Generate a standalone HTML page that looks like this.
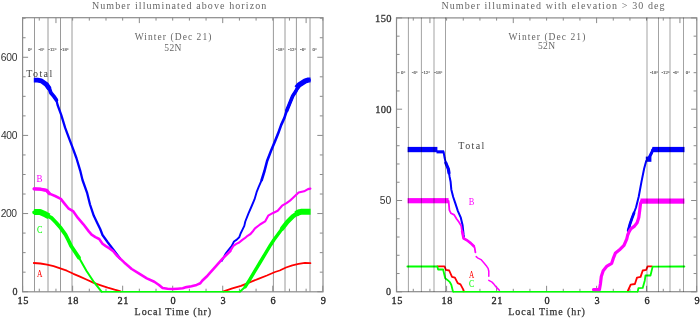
<!DOCTYPE html>
<html><head><meta charset="utf-8"><style>
html,body{margin:0;padding:0;background:#fff;width:700px;height:318px;overflow:hidden}
svg{display:block;will-change:transform}
</style></head><body>
<svg width="700" height="318" viewBox="0 0 700 318">

<line x1="34.5" y1="17.6" x2="34.5" y2="291.7" stroke="#9a9a9a" stroke-width="1"/>
<line x1="48" y1="17.6" x2="48" y2="291.7" stroke="#9a9a9a" stroke-width="1"/>
<line x1="60.5" y1="17.6" x2="60.5" y2="291.7" stroke="#9a9a9a" stroke-width="1"/>
<line x1="72" y1="17.6" x2="72" y2="291.7" stroke="#9a9a9a" stroke-width="1"/>
<line x1="273.4" y1="17.6" x2="273.4" y2="291.7" stroke="#9a9a9a" stroke-width="1"/>
<line x1="285" y1="17.6" x2="285" y2="291.7" stroke="#9a9a9a" stroke-width="1"/>
<line x1="296.4" y1="17.6" x2="296.4" y2="291.7" stroke="#9a9a9a" stroke-width="1"/>
<line x1="310" y1="17.6" x2="310" y2="291.7" stroke="#9a9a9a" stroke-width="1"/>
<rect x="22.6" y="17.7" width="300.4" height="274.1" fill="none" stroke="#8a8a8a" stroke-width="1.2"/>
<line x1="22.6" y1="291.7" x2="28.1" y2="291.7" stroke="#8a8a8a" stroke-width="1"/>
<line x1="322.8" y1="291.7" x2="317.3" y2="291.7" stroke="#8a8a8a" stroke-width="1"/>
<line x1="22.6" y1="272.16" x2="25.6" y2="272.16" stroke="#8a8a8a" stroke-width="1"/>
<line x1="322.8" y1="272.16" x2="319.8" y2="272.16" stroke="#8a8a8a" stroke-width="1"/>
<line x1="22.6" y1="252.63" x2="25.6" y2="252.63" stroke="#8a8a8a" stroke-width="1"/>
<line x1="322.8" y1="252.63" x2="319.8" y2="252.63" stroke="#8a8a8a" stroke-width="1"/>
<line x1="22.6" y1="233.09" x2="25.6" y2="233.09" stroke="#8a8a8a" stroke-width="1"/>
<line x1="322.8" y1="233.09" x2="319.8" y2="233.09" stroke="#8a8a8a" stroke-width="1"/>
<line x1="22.6" y1="213.56" x2="28.1" y2="213.56" stroke="#8a8a8a" stroke-width="1"/>
<line x1="322.8" y1="213.56" x2="317.3" y2="213.56" stroke="#8a8a8a" stroke-width="1"/>
<line x1="22.6" y1="194.02" x2="25.6" y2="194.02" stroke="#8a8a8a" stroke-width="1"/>
<line x1="322.8" y1="194.02" x2="319.8" y2="194.02" stroke="#8a8a8a" stroke-width="1"/>
<line x1="22.6" y1="174.49" x2="25.6" y2="174.49" stroke="#8a8a8a" stroke-width="1"/>
<line x1="322.8" y1="174.49" x2="319.8" y2="174.49" stroke="#8a8a8a" stroke-width="1"/>
<line x1="22.6" y1="154.95" x2="25.6" y2="154.95" stroke="#8a8a8a" stroke-width="1"/>
<line x1="322.8" y1="154.95" x2="319.8" y2="154.95" stroke="#8a8a8a" stroke-width="1"/>
<line x1="22.6" y1="135.41" x2="28.1" y2="135.41" stroke="#8a8a8a" stroke-width="1"/>
<line x1="322.8" y1="135.41" x2="317.3" y2="135.41" stroke="#8a8a8a" stroke-width="1"/>
<line x1="22.6" y1="115.88" x2="25.6" y2="115.88" stroke="#8a8a8a" stroke-width="1"/>
<line x1="322.8" y1="115.88" x2="319.8" y2="115.88" stroke="#8a8a8a" stroke-width="1"/>
<line x1="22.6" y1="96.34" x2="25.6" y2="96.34" stroke="#8a8a8a" stroke-width="1"/>
<line x1="322.8" y1="96.34" x2="319.8" y2="96.34" stroke="#8a8a8a" stroke-width="1"/>
<line x1="22.6" y1="76.81" x2="25.6" y2="76.81" stroke="#8a8a8a" stroke-width="1"/>
<line x1="322.8" y1="76.81" x2="319.8" y2="76.81" stroke="#8a8a8a" stroke-width="1"/>
<line x1="22.6" y1="57.27" x2="28.1" y2="57.27" stroke="#8a8a8a" stroke-width="1"/>
<line x1="322.8" y1="57.27" x2="317.3" y2="57.27" stroke="#8a8a8a" stroke-width="1"/>
<line x1="22.6" y1="37.74" x2="25.6" y2="37.74" stroke="#8a8a8a" stroke-width="1"/>
<line x1="322.8" y1="37.74" x2="319.8" y2="37.74" stroke="#8a8a8a" stroke-width="1"/>
<line x1="22.6" y1="18.2" x2="25.6" y2="18.2" stroke="#8a8a8a" stroke-width="1"/>
<line x1="322.8" y1="18.2" x2="319.8" y2="18.2" stroke="#8a8a8a" stroke-width="1"/>
<line x1="22.6" y1="291.7" x2="22.6" y2="285.7" stroke="#8a8a8a" stroke-width="1"/>
<line x1="22.6" y1="17.6" x2="22.6" y2="20.6" stroke="#8a8a8a" stroke-width="1"/>
<line x1="39.28" y1="291.7" x2="39.28" y2="288.7" stroke="#8a8a8a" stroke-width="1"/>
<line x1="39.28" y1="17.6" x2="39.28" y2="20.6" stroke="#8a8a8a" stroke-width="1"/>
<line x1="55.96" y1="291.7" x2="55.96" y2="288.7" stroke="#8a8a8a" stroke-width="1"/>
<line x1="55.96" y1="17.6" x2="55.96" y2="23.1" stroke="#8a8a8a" stroke-width="1"/>
<line x1="72.63" y1="291.7" x2="72.63" y2="285.7" stroke="#8a8a8a" stroke-width="1"/>
<line x1="72.63" y1="17.6" x2="72.63" y2="20.6" stroke="#8a8a8a" stroke-width="1"/>
<line x1="89.31" y1="291.7" x2="89.31" y2="288.7" stroke="#8a8a8a" stroke-width="1"/>
<line x1="89.31" y1="17.6" x2="89.31" y2="20.6" stroke="#8a8a8a" stroke-width="1"/>
<line x1="105.99" y1="291.7" x2="105.99" y2="288.7" stroke="#8a8a8a" stroke-width="1"/>
<line x1="105.99" y1="17.6" x2="105.99" y2="20.6" stroke="#8a8a8a" stroke-width="1"/>
<line x1="122.67" y1="291.7" x2="122.67" y2="285.7" stroke="#8a8a8a" stroke-width="1"/>
<line x1="122.67" y1="17.6" x2="122.67" y2="20.6" stroke="#8a8a8a" stroke-width="1"/>
<line x1="139.34" y1="291.7" x2="139.34" y2="288.7" stroke="#8a8a8a" stroke-width="1"/>
<line x1="139.34" y1="17.6" x2="139.34" y2="23.1" stroke="#8a8a8a" stroke-width="1"/>
<line x1="156.02" y1="291.7" x2="156.02" y2="288.7" stroke="#8a8a8a" stroke-width="1"/>
<line x1="156.02" y1="17.6" x2="156.02" y2="20.6" stroke="#8a8a8a" stroke-width="1"/>
<line x1="172.7" y1="291.7" x2="172.7" y2="285.7" stroke="#8a8a8a" stroke-width="1"/>
<line x1="172.7" y1="17.6" x2="172.7" y2="20.6" stroke="#8a8a8a" stroke-width="1"/>
<line x1="189.38" y1="291.7" x2="189.38" y2="288.7" stroke="#8a8a8a" stroke-width="1"/>
<line x1="189.38" y1="17.6" x2="189.38" y2="20.6" stroke="#8a8a8a" stroke-width="1"/>
<line x1="206.06" y1="291.7" x2="206.06" y2="288.7" stroke="#8a8a8a" stroke-width="1"/>
<line x1="206.06" y1="17.6" x2="206.06" y2="20.6" stroke="#8a8a8a" stroke-width="1"/>
<line x1="222.73" y1="291.7" x2="222.73" y2="285.7" stroke="#8a8a8a" stroke-width="1"/>
<line x1="222.73" y1="17.6" x2="222.73" y2="23.1" stroke="#8a8a8a" stroke-width="1"/>
<line x1="239.41" y1="291.7" x2="239.41" y2="288.7" stroke="#8a8a8a" stroke-width="1"/>
<line x1="239.41" y1="17.6" x2="239.41" y2="20.6" stroke="#8a8a8a" stroke-width="1"/>
<line x1="256.09" y1="291.7" x2="256.09" y2="288.7" stroke="#8a8a8a" stroke-width="1"/>
<line x1="256.09" y1="17.6" x2="256.09" y2="20.6" stroke="#8a8a8a" stroke-width="1"/>
<line x1="272.77" y1="291.7" x2="272.77" y2="285.7" stroke="#8a8a8a" stroke-width="1"/>
<line x1="272.77" y1="17.6" x2="272.77" y2="20.6" stroke="#8a8a8a" stroke-width="1"/>
<line x1="289.44" y1="291.7" x2="289.44" y2="288.7" stroke="#8a8a8a" stroke-width="1"/>
<line x1="289.44" y1="17.6" x2="289.44" y2="20.6" stroke="#8a8a8a" stroke-width="1"/>
<line x1="306.12" y1="291.7" x2="306.12" y2="288.7" stroke="#8a8a8a" stroke-width="1"/>
<line x1="306.12" y1="17.6" x2="306.12" y2="23.1" stroke="#8a8a8a" stroke-width="1"/>
<line x1="322.8" y1="291.7" x2="322.8" y2="285.7" stroke="#8a8a8a" stroke-width="1"/>
<line x1="322.8" y1="17.6" x2="322.8" y2="20.6" stroke="#8a8a8a" stroke-width="1"/>
<text x="27.9" y="50.7" font-family="Liberation Serif, serif" font-size="4.8" fill="#555" text-anchor="start"  stroke="#555" stroke-width="0.15">0°</text>
<text x="38.6" y="50.7" font-family="Liberation Serif, serif" font-size="4.8" fill="#555" text-anchor="start"  stroke="#555" stroke-width="0.15">-6°</text>
<text x="48.3" y="50.7" font-family="Liberation Serif, serif" font-size="4.8" fill="#555" text-anchor="start"  stroke="#555" stroke-width="0.15">-12°</text>
<text x="60.4" y="50.7" font-family="Liberation Serif, serif" font-size="4.8" fill="#555" text-anchor="start"  stroke="#555" stroke-width="0.15">-18°</text>
<text x="276.1" y="50.7" font-family="Liberation Serif, serif" font-size="4.8" fill="#555" text-anchor="start"  stroke="#555" stroke-width="0.15">-18°</text>
<text x="288.1" y="50.7" font-family="Liberation Serif, serif" font-size="4.8" fill="#555" text-anchor="start"  stroke="#555" stroke-width="0.15">-12°</text>
<text x="300.1" y="50.7" font-family="Liberation Serif, serif" font-size="4.8" fill="#555" text-anchor="start"  stroke="#555" stroke-width="0.15">-6°</text>
<text x="312.6" y="50.7" font-family="Liberation Serif, serif" font-size="4.8" fill="#555" text-anchor="start"  stroke="#555" stroke-width="0.15">0°</text>
<rect x="396.5" y="17.9" width="300.3" height="273.8" fill="none" stroke="#8a8a8a" stroke-width="1.2"/>
<line x1="396.6" y1="291.8" x2="402.1" y2="291.8" stroke="#8a8a8a" stroke-width="1"/>
<line x1="696.6" y1="291.8" x2="691.1" y2="291.8" stroke="#8a8a8a" stroke-width="1"/>
<line x1="396.6" y1="273.54" x2="399.6" y2="273.54" stroke="#8a8a8a" stroke-width="1"/>
<line x1="696.6" y1="273.54" x2="693.6" y2="273.54" stroke="#8a8a8a" stroke-width="1"/>
<line x1="396.6" y1="255.28" x2="399.6" y2="255.28" stroke="#8a8a8a" stroke-width="1"/>
<line x1="696.6" y1="255.28" x2="693.6" y2="255.28" stroke="#8a8a8a" stroke-width="1"/>
<line x1="396.6" y1="237.02" x2="399.6" y2="237.02" stroke="#8a8a8a" stroke-width="1"/>
<line x1="696.6" y1="237.02" x2="693.6" y2="237.02" stroke="#8a8a8a" stroke-width="1"/>
<line x1="396.6" y1="218.76" x2="399.6" y2="218.76" stroke="#8a8a8a" stroke-width="1"/>
<line x1="696.6" y1="218.76" x2="693.6" y2="218.76" stroke="#8a8a8a" stroke-width="1"/>
<line x1="396.6" y1="200.5" x2="402.1" y2="200.5" stroke="#8a8a8a" stroke-width="1"/>
<line x1="696.6" y1="200.5" x2="691.1" y2="200.5" stroke="#8a8a8a" stroke-width="1"/>
<line x1="396.6" y1="182.24" x2="399.6" y2="182.24" stroke="#8a8a8a" stroke-width="1"/>
<line x1="696.6" y1="182.24" x2="693.6" y2="182.24" stroke="#8a8a8a" stroke-width="1"/>
<line x1="396.6" y1="163.98" x2="399.6" y2="163.98" stroke="#8a8a8a" stroke-width="1"/>
<line x1="696.6" y1="163.98" x2="693.6" y2="163.98" stroke="#8a8a8a" stroke-width="1"/>
<line x1="396.6" y1="145.72" x2="399.6" y2="145.72" stroke="#8a8a8a" stroke-width="1"/>
<line x1="696.6" y1="145.72" x2="693.6" y2="145.72" stroke="#8a8a8a" stroke-width="1"/>
<line x1="396.6" y1="127.46" x2="399.6" y2="127.46" stroke="#8a8a8a" stroke-width="1"/>
<line x1="696.6" y1="127.46" x2="693.6" y2="127.46" stroke="#8a8a8a" stroke-width="1"/>
<line x1="396.6" y1="109.2" x2="402.1" y2="109.2" stroke="#8a8a8a" stroke-width="1"/>
<line x1="696.6" y1="109.2" x2="691.1" y2="109.2" stroke="#8a8a8a" stroke-width="1"/>
<line x1="396.6" y1="90.94" x2="399.6" y2="90.94" stroke="#8a8a8a" stroke-width="1"/>
<line x1="696.6" y1="90.94" x2="693.6" y2="90.94" stroke="#8a8a8a" stroke-width="1"/>
<line x1="396.6" y1="72.68" x2="399.6" y2="72.68" stroke="#8a8a8a" stroke-width="1"/>
<line x1="696.6" y1="72.68" x2="693.6" y2="72.68" stroke="#8a8a8a" stroke-width="1"/>
<line x1="396.6" y1="54.42" x2="399.6" y2="54.42" stroke="#8a8a8a" stroke-width="1"/>
<line x1="696.6" y1="54.42" x2="693.6" y2="54.42" stroke="#8a8a8a" stroke-width="1"/>
<line x1="396.6" y1="36.16" x2="399.6" y2="36.16" stroke="#8a8a8a" stroke-width="1"/>
<line x1="696.6" y1="36.16" x2="693.6" y2="36.16" stroke="#8a8a8a" stroke-width="1"/>
<line x1="396.6" y1="17.9" x2="402.1" y2="17.9" stroke="#8a8a8a" stroke-width="1"/>
<line x1="696.6" y1="17.9" x2="691.1" y2="17.9" stroke="#8a8a8a" stroke-width="1"/>
<line x1="396.6" y1="291.8" x2="396.6" y2="285.8" stroke="#8a8a8a" stroke-width="1"/>
<line x1="396.6" y1="17.6" x2="396.6" y2="20.6" stroke="#8a8a8a" stroke-width="1"/>
<line x1="413.27" y1="291.8" x2="413.27" y2="288.8" stroke="#8a8a8a" stroke-width="1"/>
<line x1="413.27" y1="17.6" x2="413.27" y2="20.6" stroke="#8a8a8a" stroke-width="1"/>
<line x1="429.93" y1="291.8" x2="429.93" y2="288.8" stroke="#8a8a8a" stroke-width="1"/>
<line x1="429.93" y1="17.6" x2="429.93" y2="23.1" stroke="#8a8a8a" stroke-width="1"/>
<line x1="446.6" y1="291.8" x2="446.6" y2="285.8" stroke="#8a8a8a" stroke-width="1"/>
<line x1="446.6" y1="17.6" x2="446.6" y2="20.6" stroke="#8a8a8a" stroke-width="1"/>
<line x1="463.27" y1="291.8" x2="463.27" y2="288.8" stroke="#8a8a8a" stroke-width="1"/>
<line x1="463.27" y1="17.6" x2="463.27" y2="20.6" stroke="#8a8a8a" stroke-width="1"/>
<line x1="479.93" y1="291.8" x2="479.93" y2="288.8" stroke="#8a8a8a" stroke-width="1"/>
<line x1="479.93" y1="17.6" x2="479.93" y2="20.6" stroke="#8a8a8a" stroke-width="1"/>
<line x1="496.6" y1="291.8" x2="496.6" y2="285.8" stroke="#8a8a8a" stroke-width="1"/>
<line x1="496.6" y1="17.6" x2="496.6" y2="20.6" stroke="#8a8a8a" stroke-width="1"/>
<line x1="513.27" y1="291.8" x2="513.27" y2="288.8" stroke="#8a8a8a" stroke-width="1"/>
<line x1="513.27" y1="17.6" x2="513.27" y2="23.1" stroke="#8a8a8a" stroke-width="1"/>
<line x1="529.93" y1="291.8" x2="529.93" y2="288.8" stroke="#8a8a8a" stroke-width="1"/>
<line x1="529.93" y1="17.6" x2="529.93" y2="20.6" stroke="#8a8a8a" stroke-width="1"/>
<line x1="546.6" y1="291.8" x2="546.6" y2="285.8" stroke="#8a8a8a" stroke-width="1"/>
<line x1="546.6" y1="17.6" x2="546.6" y2="20.6" stroke="#8a8a8a" stroke-width="1"/>
<line x1="563.27" y1="291.8" x2="563.27" y2="288.8" stroke="#8a8a8a" stroke-width="1"/>
<line x1="563.27" y1="17.6" x2="563.27" y2="20.6" stroke="#8a8a8a" stroke-width="1"/>
<line x1="579.93" y1="291.8" x2="579.93" y2="288.8" stroke="#8a8a8a" stroke-width="1"/>
<line x1="579.93" y1="17.6" x2="579.93" y2="20.6" stroke="#8a8a8a" stroke-width="1"/>
<line x1="596.6" y1="291.8" x2="596.6" y2="285.8" stroke="#8a8a8a" stroke-width="1"/>
<line x1="596.6" y1="17.6" x2="596.6" y2="23.1" stroke="#8a8a8a" stroke-width="1"/>
<line x1="613.27" y1="291.8" x2="613.27" y2="288.8" stroke="#8a8a8a" stroke-width="1"/>
<line x1="613.27" y1="17.6" x2="613.27" y2="20.6" stroke="#8a8a8a" stroke-width="1"/>
<line x1="629.93" y1="291.8" x2="629.93" y2="288.8" stroke="#8a8a8a" stroke-width="1"/>
<line x1="629.93" y1="17.6" x2="629.93" y2="20.6" stroke="#8a8a8a" stroke-width="1"/>
<line x1="646.6" y1="291.8" x2="646.6" y2="285.8" stroke="#8a8a8a" stroke-width="1"/>
<line x1="646.6" y1="17.6" x2="646.6" y2="20.6" stroke="#8a8a8a" stroke-width="1"/>
<line x1="663.27" y1="291.8" x2="663.27" y2="288.8" stroke="#8a8a8a" stroke-width="1"/>
<line x1="663.27" y1="17.6" x2="663.27" y2="20.6" stroke="#8a8a8a" stroke-width="1"/>
<line x1="679.93" y1="291.8" x2="679.93" y2="288.8" stroke="#8a8a8a" stroke-width="1"/>
<line x1="679.93" y1="17.6" x2="679.93" y2="23.1" stroke="#8a8a8a" stroke-width="1"/>
<line x1="696.6" y1="291.8" x2="696.6" y2="285.8" stroke="#8a8a8a" stroke-width="1"/>
<line x1="696.6" y1="17.6" x2="696.6" y2="20.6" stroke="#8a8a8a" stroke-width="1"/>
<text x="401" y="74.2" font-family="Liberation Serif, serif" font-size="4.8" fill="#555" text-anchor="start"  stroke="#555" stroke-width="0.15">0°</text>
<text x="411.8" y="74.2" font-family="Liberation Serif, serif" font-size="4.8" fill="#555" text-anchor="start"  stroke="#555" stroke-width="0.15">-6°</text>
<text x="421.8" y="74.2" font-family="Liberation Serif, serif" font-size="4.8" fill="#555" text-anchor="start"  stroke="#555" stroke-width="0.15">-12°</text>
<text x="434.2" y="74.2" font-family="Liberation Serif, serif" font-size="4.8" fill="#555" text-anchor="start"  stroke="#555" stroke-width="0.15">-18°</text>
<text x="649.9" y="74.2" font-family="Liberation Serif, serif" font-size="4.8" fill="#555" text-anchor="start"  stroke="#555" stroke-width="0.15">-18°</text>
<text x="661.4" y="74.2" font-family="Liberation Serif, serif" font-size="4.8" fill="#555" text-anchor="start"  stroke="#555" stroke-width="0.15">-12°</text>
<text x="673" y="74.2" font-family="Liberation Serif, serif" font-size="4.8" fill="#555" text-anchor="start"  stroke="#555" stroke-width="0.15">-6°</text>
<text x="685.8" y="74.2" font-family="Liberation Serif, serif" font-size="4.8" fill="#555" text-anchor="start"  stroke="#555" stroke-width="0.15">0°</text>
<polyline points="33.8,263 40.4,263.5 47,264.6 53.6,266.1 60.2,268.3 66.8,270.7 73.4,273.8 80,276.6 86.9,279.8 93.8,282.9 100.8,285.3 107.7,287.6 114.6,289.7 120.7,291.4" fill="none" stroke="#ff0000" stroke-width="1.8" stroke-linejoin="round" stroke-linecap="round" />
<polyline points="223.6,291.4 232.3,288.4 241,285.8 249.6,282.4 258.3,278.9 266.9,275.5 275,272 279.7,270.5 286,267.5 292.3,265.4 298.6,263.9 304.9,262.8 310.4,263.1" fill="none" stroke="#ff0000" stroke-width="1.8" stroke-linejoin="round" stroke-linecap="round" />
<polyline points="35.5,80.1 37.5,80.1 41.4,80.9 46.4,84.5 49.5,88.9 50.8,92.7 53.9,96.4 56.4,100 57.6,105 61.3,115.2 65.1,127.7 68.9,137.8 72.7,147.9 76.4,158 80.2,170.6 82.5,180 87.2,193.2 90,204.5 93.8,215.8 97.5,223.4 100.2,229 102.5,235 107.5,242 113.2,249.5 119.8,258.2" fill="none" stroke="#0000ff" stroke-width="2.3" stroke-linejoin="round" stroke-linecap="round" />
<polyline points="221.8,260.8 225.9,253.3 228.8,249.5 231.6,246.2 234,241.5 236.8,239.6 239.2,237.3 240.6,233.5 242.5,229.7 244.3,225.9 245.3,221.5 248.4,213.7 251.5,206.5 254.5,199.4 256.6,192.2 258.6,187.1 261.7,180" fill="none" stroke="#0000ff" stroke-width="1.9" stroke-linejoin="round" stroke-linecap="round" />
<polyline points="261.7,180 264.5,171 267.1,161 271,150.9 274.9,141.4 278.1,133.6 281.2,124.9 284.4,117.9 286.8,110.5 289.5,103.9 292.7,96 295.8,91.3 299,85 302.1,83.4 305.2,81.1 308.4,80 309,80.1" fill="none" stroke="#0000ff" stroke-width="2.6" stroke-linejoin="round" stroke-linecap="round" />
<polyline points="286.8,110.5 289.5,103.9 292.7,96 295.8,91.3 299,85 302.1,83.4 305.2,81.1 308.4,80 309,80.1" fill="none" stroke="#0000ff" stroke-width="3.6" stroke-linejoin="round" stroke-linecap="round" />
<polyline points="34.1,188.9 40,189.1 46.6,190.4 49.4,193.6 55.1,196 60.8,198.9 64.5,203.6 68.3,208.3 73,211.1 77.7,217.7 83.4,224.3 88.8,231.4 91.6,234.7 95.4,237.1 99.2,239 102.5,243.7 105.8,246.1 109.5,248.4 113.3,251.2 116.6,255.3 124.2,262.4 131.7,269 139.2,273.7 146.8,278.4 154.3,281.8 159,285 162.6,288 167.6,288.7 172.7,289 177.7,288.7 182.7,288.3 186.5,287.1 191.5,286.2 196.6,284.9 200.3,283.3 202.2,280.8 207.5,275.7 215.1,267.2 222.6,258.7 230.2,251.1" fill="none" stroke="#ff00ff" stroke-width="2.6" stroke-linejoin="round" stroke-linecap="round" />
<polyline points="230.2,251.1 233.5,245.8 236.3,243.9 239.2,242.5 242,240.1 244.8,238.2 247.6,235.8 250.5,234 253.3,230.7 255,228.3 260,224.5 265.1,221.4 268.2,215.7 272.6,213.2 277.7,210.7 282.1,205.7 286.5,203.1 290,200.6 292.3,198.5 298.6,192.6 304.1,191.3 308,189.1 310.4,188.6" fill="none" stroke="#ff00ff" stroke-width="2.1" stroke-linejoin="round" stroke-linecap="round" />
<polyline points="34.1,188.9 40,189.1 46.6,190.4 49.4,193.6" fill="none" stroke="#ff00ff" stroke-width="3.3" stroke-linejoin="round" stroke-linecap="round" />
<polyline points="34.1,212.3 40,212.1 45.7,214.9 51.3,217.7 56,222.5 60.8,228.1 65.5,234.7 68.5,240.5 71.3,246.3 78.9,257.6 86.4,270.8 94,282.2 101.5,291.6" fill="none" stroke="#00ff00" stroke-width="2.0" stroke-linejoin="round" stroke-linecap="round" />
<polyline points="240.1,291.6 245.3,286.7 249.6,279.8 254.8,271.1 260,262.5 265.2,253.8 270.4,245.2 273.8,240 282.1,228.7 287.6,221.7 293.1,216.2 298.6,212.2 302.5,211.4 309,211.6" fill="none" stroke="#00ff00" stroke-width="2.0" stroke-linejoin="round" stroke-linecap="round" />
<line x1="101.5" y1="291.8" x2="240.1" y2="291.8" stroke="#00ff00" stroke-width="1.6"/>
<polyline points="34.1,212.3 40,212.1 45.7,214.9 51.3,217.7 56,222.5 60.8,228.1 65.5,234.7 68.5,240.5 71.3,246.3 78.9,257.6" fill="none" stroke="#00ff00" stroke-width="3.8" stroke-linejoin="round" stroke-linecap="round" />
<polyline points="33.9,212.1 40,212.1 45.7,214.6 49,216.4" fill="none" stroke="#00ff00" stroke-width="6" stroke-linejoin="round" stroke-linecap="butt" />
<polyline points="245.3,286.7 249.6,279.8 254.8,271.1 260,262.5 265.2,253.8 270.4,245.2 273.8,240 282.1,228.7" fill="none" stroke="#00ff00" stroke-width="3.4" stroke-linejoin="round" stroke-linecap="round" />
<polyline points="282.1,228.7 287.6,221.7 293.1,216.2 298.6,212.2" fill="none" stroke="#00ff00" stroke-width="4.5" stroke-linejoin="round" stroke-linecap="round" />
<polyline points="296,214 298.6,212.4 301,211.8 310.6,211.8" fill="none" stroke="#00ff00" stroke-width="6" stroke-linejoin="round" stroke-linecap="butt" />
<polyline points="33.8,80.1 37.5,80.1 41.4,80.9 46.4,84.5 49.5,88.9" fill="none" stroke="#0000ff" stroke-width="4.8" stroke-linejoin="round" stroke-linecap="butt" />
<polyline points="46.4,84.5 49.5,88.9 50.8,92.7 53.9,96.4 56.4,100" fill="none" stroke="#0000ff" stroke-width="3.8" stroke-linejoin="round" stroke-linecap="round" />
<polyline points="296.5,88 299,85 302.1,83 305.2,81 308.4,80 310.5,80" fill="none" stroke="#0000ff" stroke-width="5.2" stroke-linejoin="round" stroke-linecap="butt" />
<polyline points="437.4,266.3 444.5,266.3 445.9,269.8 449.2,270.5 452,276.9 454.9,277.6 457.7,283.2 460.5,284.4 463.3,289.6 463.8,291.3" fill="none" stroke="#ff0000" stroke-width="1.8" stroke-linejoin="round" stroke-linecap="round" />
<polyline points="627.8,291 630.7,284.7 634.9,284 637,277.6 640.6,276.9 642.7,270.5 646.2,269.8 647.6,266.3 651.9,266.3" fill="none" stroke="#ff0000" stroke-width="1.8" stroke-linejoin="round" stroke-linecap="round" />
<polyline points="407.4,266.5 437.4,266.5 438.1,269.5 443.1,269.5 445.2,278.3 447.1,279.7 449.9,282.2 451.3,284.7 453,291.6" fill="none" stroke="#00ff00" stroke-width="1.8" stroke-linejoin="round" stroke-linecap="round" />
<polyline points="637.7,291.6 638.4,288.2 642.7,287.9 644.8,280.4 645.5,275.5 650.5,275.5 652.6,266.7 684.4,266.5" fill="none" stroke="#00ff00" stroke-width="1.8" stroke-linejoin="round" stroke-linecap="round" />
<line x1="453" y1="291.8" x2="637.7" y2="291.8" stroke="#00ff00" stroke-width="1.6"/>
<polyline points="443.6,152 444.6,157.8 445.8,162.9 447.1,166 448.4,169.2 449,172.9 449.6,176.7 450.6,181.7 451.3,189.4 453.2,197 455.1,202.6 457.9,211.1 460.8,217.7 462.6,225.3 463.6,234.7 464,236.6" fill="none" stroke="#0000ff" stroke-width="2.0" stroke-linejoin="round" stroke-linecap="round" />
<polyline points="445.8,162.9 447.1,166 448.4,169.2 449,172.9" fill="none" stroke="#0000ff" stroke-width="3.2" stroke-linejoin="round" stroke-linecap="round" />
<rect x="436.5" y="150.3" width="7.6" height="3.1" fill="#0000ff"/>
<polyline points="628.2,230.6 630,224 632,218.2 636,207.5 638.7,196.8 641.4,182.1 644.1,168.7 646.2,161" fill="none" stroke="#0000ff" stroke-width="2.0" stroke-linejoin="round" stroke-linecap="round" />
<polyline points="628.2,230.6 630,224 632,218.2 634,213" fill="none" stroke="#0000ff" stroke-width="2.8" stroke-linejoin="round" stroke-linecap="round" />
<rect x="645.8" y="156.6" width="5.6" height="5.2" fill="#0000ff"/>
<polyline points="649,158 651.5,153 653,149.5" fill="none" stroke="#0000ff" stroke-width="3" stroke-linejoin="round" stroke-linecap="round" />
<rect x="651" y="149.5" width="2" height="4" fill="#0000ff"/>
<rect x="407.6" y="146.9" width="29.8" height="5.3" fill="#0000ff"/>
<rect x="652.3" y="146.9" width="32.2" height="5.3" fill="#0000ff"/>
<polyline points="448.6,201 449.4,210.2 451,213.3 454.2,214.9 456.5,218.8 458.9,222 461.2,225.9 462.1,231.3 463.6,238.4 467.6,240.7 470.7,243.1 473.9,246.2 474.7,247.8 475.4,252.3" fill="none" stroke="#ff00ff" stroke-width="1.8" stroke-linejoin="round" stroke-linecap="round" />
<polyline points="476.2,256.6 477.5,257.8 481,259.6 483.8,262.7 486.7,266.3 488.1,268.4 488.8,271.2 488.8,276.2" fill="none" stroke="#ff00ff" stroke-width="1.5" stroke-linejoin="round" stroke-linecap="round" />
<polyline points="488.8,280.4 491.6,281.8 493.7,283.9 495.9,286.8 498,288.9 499.4,290.3" fill="none" stroke="#ff00ff" stroke-width="1.5" stroke-linejoin="round" stroke-linecap="round" />
<polyline points="462.1,231.3 463.6,238.4 467.6,240.7 470.7,243.1 473.9,246.2" fill="none" stroke="#ff00ff" stroke-width="2.6" stroke-linejoin="round" stroke-linecap="round" />
<polyline points="593.5,289.6 599.4,289.6 600.4,284 601.3,276.5 603.2,270.8 607,266.1 611.7,263.3 613.6,257.6 615.5,252.9 620.2,249.2 624,245.4 626.8,238.8 627.7,235 629.3,231.3 631,228.7 634.5,226.1 637.1,222.7 638.8,217.5 639.7,210.6 640.5,203.7 641.4,201.5" fill="none" stroke="#ff00ff" stroke-width="3.2" stroke-linejoin="round" stroke-linecap="round" />
<rect x="407.6" y="198.1" width="41" height="5.2" fill="#ff00ff"/>
<rect x="640.5" y="198.5" width="43.9" height="5.2" fill="#ff00ff"/>
<line x1="408.4" y1="17.6" x2="408.4" y2="291.8" stroke="#000" stroke-opacity="0.36" stroke-width="1"/>
<line x1="421.4" y1="17.6" x2="421.4" y2="291.8" stroke="#000" stroke-opacity="0.36" stroke-width="1"/>
<line x1="434" y1="17.6" x2="434" y2="291.8" stroke="#000" stroke-opacity="0.36" stroke-width="1"/>
<line x1="445.5" y1="17.6" x2="445.5" y2="291.8" stroke="#000" stroke-opacity="0.36" stroke-width="1"/>
<line x1="647" y1="17.6" x2="647" y2="291.8" stroke="#000" stroke-opacity="0.36" stroke-width="1"/>
<line x1="658.5" y1="17.6" x2="658.5" y2="291.8" stroke="#000" stroke-opacity="0.36" stroke-width="1"/>
<line x1="670" y1="17.6" x2="670" y2="291.8" stroke="#000" stroke-opacity="0.36" stroke-width="1"/>
<line x1="683.5" y1="17.6" x2="683.5" y2="291.8" stroke="#000" stroke-opacity="0.36" stroke-width="1"/>
<text x="91.9" y="8.6" font-family="Liberation Serif, serif" font-size="10" fill="#666" text-anchor="start"  textLength="174.4" lengthAdjust="spacing">Number illuminated above horizon</text>
<text x="441.4" y="8.6" font-family="Liberation Serif, serif" font-size="10" fill="#666" text-anchor="start"  textLength="223.2" lengthAdjust="spacing">Number illuminated with elevation &gt; 30 deg</text>
<text x="134.7" y="40.3" font-family="Liberation Serif, serif" font-size="9.5" fill="#666" text-anchor="start"  textLength="76.7" lengthAdjust="spacing">Winter (Dec 21)</text>
<text x="164.3" y="50.5" font-family="Liberation Serif, serif" font-size="9.5" fill="#666" text-anchor="start"  textLength="17.1" lengthAdjust="spacing">52N</text>
<text x="508.6" y="40.3" font-family="Liberation Serif, serif" font-size="9.5" fill="#666" text-anchor="start"  textLength="76.7" lengthAdjust="spacing">Winter (Dec 21)</text>
<text x="537.9" y="49.1" font-family="Liberation Serif, serif" font-size="9.5" fill="#666" text-anchor="start"  textLength="17.1" lengthAdjust="spacing">52N</text>
<text x="26.3" y="76.6" font-family="Liberation Serif, serif" font-size="10" fill="#444" text-anchor="start"  textLength="25.9" lengthAdjust="spacing">Total</text>
<text x="458.3" y="149.2" font-family="Liberation Serif, serif" font-size="10" fill="#444" text-anchor="start"  textLength="26.1" lengthAdjust="spacing">Total</text>
<text x="36.6" y="182.2" font-family="Liberation Serif, serif" font-size="10.5" fill="#ff00ff" text-anchor="start" textLength="6" lengthAdjust="spacingAndGlyphs">B</text>
<text x="37.1" y="233.4" font-family="Liberation Serif, serif" font-size="10.5" fill="#00ff00" text-anchor="start" textLength="5.5" lengthAdjust="spacingAndGlyphs">C</text>
<text x="37" y="276.9" font-family="Liberation Serif, serif" font-size="10.5" fill="#ff0000" text-anchor="start" textLength="5.4" lengthAdjust="spacingAndGlyphs">A</text>
<text x="468.8" y="204.6" font-family="Liberation Serif, serif" font-size="10.5" fill="#ff00ff" text-anchor="start" textLength="5.6" lengthAdjust="spacingAndGlyphs">B</text>
<text x="469" y="277.6" font-family="Liberation Serif, serif" font-size="10.5" fill="#ff0000" text-anchor="start" textLength="5.2" lengthAdjust="spacingAndGlyphs">A</text>
<text x="469" y="286.5" font-family="Liberation Serif, serif" font-size="10.5" fill="#00ff00" text-anchor="start" textLength="5.2" lengthAdjust="spacingAndGlyphs">C</text>
<text x="0.8" y="60.7" font-family="Liberation Sans, sans-serif" font-size="10.3" fill="#333" text-anchor="start"  textLength="16.7" lengthAdjust="spacing">600</text>
<text x="0.9" y="138.7" font-family="Liberation Sans, sans-serif" font-size="10.3" fill="#333" text-anchor="start"  textLength="16.6" lengthAdjust="spacing">400</text>
<text x="0.8" y="216.9" font-family="Liberation Sans, sans-serif" font-size="10.3" fill="#333" text-anchor="start"  textLength="16.3" lengthAdjust="spacing">200</text>
<text x="17.5" y="295.4" font-family="Liberation Serif, serif" font-size="10" fill="#333" text-anchor="end"  stroke="#333" stroke-width="0.3">0</text>
<text x="375.1" y="21.8" font-family="Liberation Serif, serif" font-size="10.5" fill="#333" text-anchor="start"  stroke="#333" stroke-width="0.3" textLength="16.5" lengthAdjust="spacing">150</text>
<text x="375.3" y="112.7" font-family="Liberation Serif, serif" font-size="10.5" fill="#333" text-anchor="start"  stroke="#333" stroke-width="0.3" textLength="16.3" lengthAdjust="spacing">100</text>
<text x="379.8" y="204" font-family="Liberation Sans, sans-serif" font-size="10.3" fill="#333" text-anchor="start"  textLength="11.5" lengthAdjust="spacing">50</text>
<text x="391.1" y="295.4" font-family="Liberation Serif, serif" font-size="10" fill="#333" text-anchor="end"  stroke="#333" stroke-width="0.3">0</text>
<text x="23.3" y="303.7" font-family="Liberation Serif, serif" font-size="10.3" fill="#222" text-anchor="middle" letter-spacing="0.6" stroke="#222" stroke-width="0.3">15</text>
<text x="73.33" y="303.7" font-family="Liberation Serif, serif" font-size="10.3" fill="#222" text-anchor="middle" letter-spacing="0.6" stroke="#222" stroke-width="0.3">18</text>
<text x="123.37" y="303.7" font-family="Liberation Serif, serif" font-size="10.3" fill="#222" text-anchor="middle" letter-spacing="0.6" stroke="#222" stroke-width="0.3">21</text>
<text x="173.4" y="303.7" font-family="Liberation Serif, serif" font-size="10.3" fill="#222" text-anchor="middle" letter-spacing="0.6" stroke="#222" stroke-width="0.3">0</text>
<text x="223.43" y="303.7" font-family="Liberation Serif, serif" font-size="10.3" fill="#222" text-anchor="middle" letter-spacing="0.6" stroke="#222" stroke-width="0.3">3</text>
<text x="273.47" y="303.7" font-family="Liberation Serif, serif" font-size="10.3" fill="#222" text-anchor="middle" letter-spacing="0.6" stroke="#222" stroke-width="0.3">6</text>
<text x="323.5" y="303.7" font-family="Liberation Serif, serif" font-size="10.3" fill="#222" text-anchor="middle" letter-spacing="0.6" stroke="#222" stroke-width="0.3">9</text>
<text x="397.3" y="303.7" font-family="Liberation Serif, serif" font-size="10.3" fill="#222" text-anchor="middle" letter-spacing="0.6" stroke="#222" stroke-width="0.3">15</text>
<text x="447.3" y="303.7" font-family="Liberation Serif, serif" font-size="10.3" fill="#222" text-anchor="middle" letter-spacing="0.6" stroke="#222" stroke-width="0.3">18</text>
<text x="497.3" y="303.7" font-family="Liberation Serif, serif" font-size="10.3" fill="#222" text-anchor="middle" letter-spacing="0.6" stroke="#222" stroke-width="0.3">21</text>
<text x="547.3" y="303.7" font-family="Liberation Serif, serif" font-size="10.3" fill="#222" text-anchor="middle" letter-spacing="0.6" stroke="#222" stroke-width="0.3">0</text>
<text x="597.3" y="303.7" font-family="Liberation Serif, serif" font-size="10.3" fill="#222" text-anchor="middle" letter-spacing="0.6" stroke="#222" stroke-width="0.3">3</text>
<text x="647.3" y="303.7" font-family="Liberation Serif, serif" font-size="10.3" fill="#222" text-anchor="middle" letter-spacing="0.6" stroke="#222" stroke-width="0.3">6</text>
<text x="697.3" y="303.7" font-family="Liberation Serif, serif" font-size="10.3" fill="#222" text-anchor="middle" letter-spacing="0.6" stroke="#222" stroke-width="0.3">9</text>
<text x="134.6" y="315.3" font-family="Liberation Serif, serif" font-size="10" fill="#333" text-anchor="start"  stroke="#333" stroke-width="0.25" textLength="76.6" lengthAdjust="spacing">Local Time (hr)</text>
<text x="508.3" y="315.3" font-family="Liberation Serif, serif" font-size="10" fill="#333" text-anchor="start"  stroke="#333" stroke-width="0.25" textLength="76.6" lengthAdjust="spacing">Local Time (hr)</text>
</svg>
</body></html>
